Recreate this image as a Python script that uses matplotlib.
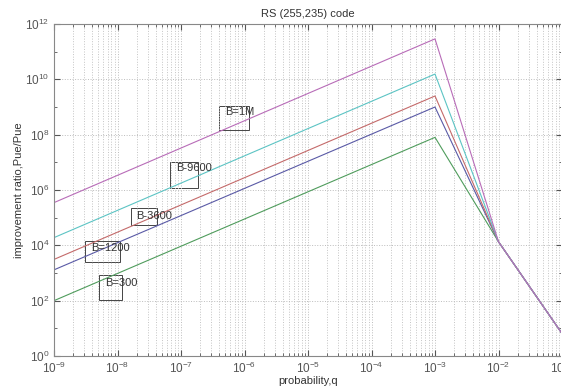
import numpy as np
import matplotlib
matplotlib.use('Agg')
import matplotlib.pyplot as plt
from matplotlib.patches import Rectangle
from matplotlib.ticker import LogLocator, NullFormatter

plt.rcParams['font.family'] = ['Liberation Sans', 'DejaVu Sans']
plt.rcParams['mathtext.default'] = 'regular'

# probability points (break points of the curves)
q = [1e-9, 1e-3, 1e-2, 1e-1]

# improvement ratio for each block size
b_1m = [3.5e5, 2.9e11, 1.35e4, 6.5]
b_9600 = [1.9e4, 1.55e10, 1.35e4, 6.5]
b_3600 = [3.1e3, 2.5e9, 1.35e4, 6.5]
b_1200 = [1.3e3, 1.0e9, 1.35e4, 6.5]
b_300 = [1.0e2, 8.0e7, 1.35e4, 6.5]

series = [b_300, b_1200, b_3600, b_9600, b_1m]
colors = ['#4f9c5c', '#5a5aa6', '#c46a6a', '#5cc4c4', '#b86cb8']

# label text and where the boxes sit (axes fraction)
labels = ['B=1M', 'B-9600', 'B-3600', 'B=1200', 'B=300']
label_xy = [(0.337, 0.735), (0.241, 0.565), (0.162, 0.421), (0.073, 0.325), (0.100, 0.219)]
box_xywh = [(0.325, 0.681, 0.059, 0.072), (0.229, 0.506, 0.055, 0.078),
            (0.152, 0.395, 0.051, 0.051), (0.061, 0.283, 0.069, 0.063),
            (0.089, 0.169, 0.045, 0.075)]

fig = plt.figure(figsize=(5.61, 3.89), dpi=100)
ax = fig.add_axes([54 / 561, 33 / 389, 508 / 561, 332 / 389])

for s, c in zip(series, colors):
    ax.loglog(q, s, color=c, linewidth=0.8)

ax.set_xlim(1e-9, 1e-1)
ax.set_ylim(1, 1e12)
ax.yaxis.set_major_locator(LogLocator(base=100, numticks=10))
ax.yaxis.set_minor_locator(LogLocator(base=10, subs=[1.0], numticks=20))
ax.yaxis.set_minor_formatter(NullFormatter())
ax.xaxis.set_major_locator(LogLocator(base=10, numticks=12))
ax.xaxis.set_minor_locator(LogLocator(base=10, subs=np.arange(2, 10), numticks=12))

ax.grid(True, which='major', axis='both', linestyle=':', color='#bcbcbc', linewidth=0.7)
ax.grid(True, which='minor', axis='x', linestyle=':', color='#c4c4c4', linewidth=0.7)
ax.tick_params(which='both', direction='in', top=True, right=True, labelsize=8.5, colors='#555555')
ax.tick_params(which='major', length=4)
ax.tick_params(which='minor', length=2)
for sp in ax.spines.values():
    sp.set_color('#888888')

for t, (tx, ty), (bx, by, bw, bh) in zip(labels, label_xy, box_xywh):
    ax.add_patch(Rectangle((bx, by), bw, bh, transform=ax.transAxes, fill=False,
                           edgecolor='#444444', linewidth=0.7))
    ax.text(tx, ty, t, transform=ax.transAxes, fontsize=8, color='#333333', va='center')

ax.set_title('RS (255,235) code', fontsize=8, color='#333333', pad=5)
ax.set_xlabel('probability,q', fontsize=8, color='#333333', labelpad=0)
ax.set_ylabel('improvement ratio,Pue/Pue', fontsize=8, color='#333333', labelpad=1)

fig.savefig('out.png', dpi=100)
